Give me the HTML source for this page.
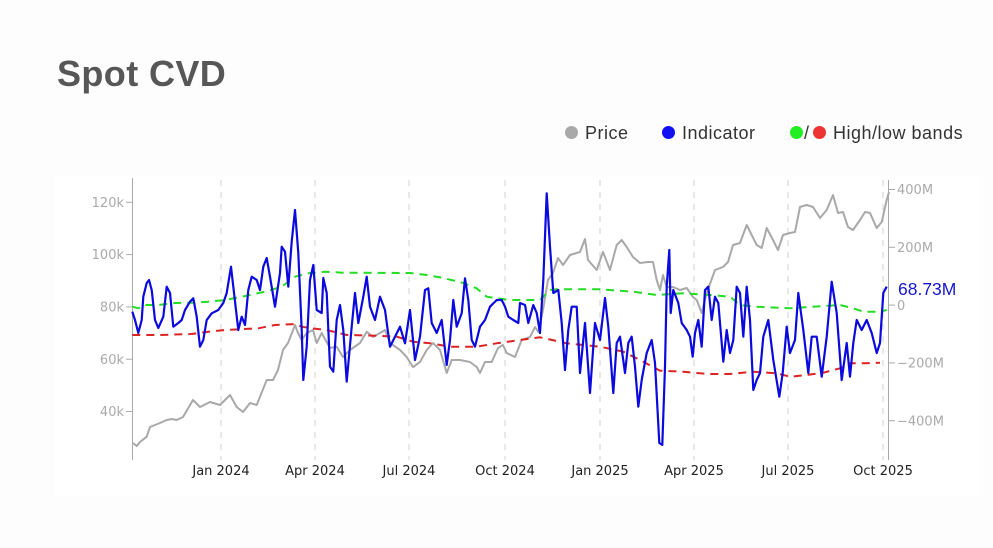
<!DOCTYPE html>
<html>
<head>
<meta charset="utf-8">
<style>
  html,body{margin:0;padding:0;background:#fdfdfd;}
  body{width:993px;height:548px;position:relative;overflow:hidden;font-family:"Liberation Sans",sans-serif;}
  .title{position:absolute;left:57px;top:53px;font-size:36px;font-weight:bold;color:#575757;letter-spacing:0.4px;}
  .leg{position:absolute;top:122px;font-size:18px;color:#333;line-height:22px;letter-spacing:0.5px;}
  .dot{position:absolute;top:126px;width:13px;height:13px;border-radius:50%;}
  svg{position:absolute;left:0;top:0;}
</style>
</head>
<body>
<div class="title">Spot CVD</div>

<div class="dot" style="left:565px;background:#a9a9a9;"></div>
<div class="leg" style="left:585px;">Price</div>
<div class="dot" style="left:662px;background:#1010f0;"></div>
<div class="leg" style="left:682px;">Indicator</div>
<div class="dot" style="left:790px;background:#22ee22;"></div>
<div class="leg" style="left:804px;">/</div>
<div class="dot" style="left:813px;background:#ee3333;"></div>
<div class="leg" style="left:833px;">High/low bands</div>

<svg width="993" height="548" viewBox="0 0 993 548" xmlns="http://www.w3.org/2000/svg">
  <rect x="55" y="176" width="925" height="320" fill="#ffffff"/>
  <!-- vertical dashed gridlines -->
  <g stroke="#d0d0d0" stroke-width="1" stroke-dasharray="6,6">
    <line x1="221" y1="180" x2="221" y2="460"/>
    <line x1="315" y1="180" x2="315" y2="460"/>
    <line x1="409" y1="180" x2="409" y2="460"/>
    <line x1="505" y1="180" x2="505" y2="460"/>
    <line x1="600" y1="180" x2="600" y2="460"/>
    <line x1="694" y1="180" x2="694" y2="460"/>
    <line x1="788" y1="180" x2="788" y2="460"/>
    <line x1="883" y1="180" x2="883" y2="460"/>
  </g>
  <!-- axes -->
  <g stroke="#aaaaaa" stroke-width="1">
    <line x1="132.5" y1="178" x2="132.5" y2="460"/>
    <line x1="888.5" y1="180" x2="888.5" y2="460"/>
    <line x1="126" y1="202.3" x2="132" y2="202.3"/>
    <line x1="126" y1="254.6" x2="132" y2="254.6"/>
    <line x1="126" y1="306.9" x2="132" y2="306.9"/>
    <line x1="126" y1="359.2" x2="132" y2="359.2"/>
    <line x1="126" y1="411.5" x2="132" y2="411.5"/>
    <line x1="889" y1="189.5" x2="895" y2="189.5"/>
    <line x1="889" y1="247.3" x2="895" y2="247.3"/>
    <line x1="889" y1="305.1" x2="895" y2="305.1"/>
    <line x1="889" y1="362.9" x2="895" y2="362.9"/>
    <line x1="889" y1="420.7" x2="895" y2="420.7"/>
  </g>
  <g font-family="DejaVu Sans, sans-serif" font-size="13" fill="#aaaaaa" text-anchor="end">
    <text x="124" y="207">120k</text>
    <text x="124" y="259">100k</text>
    <text x="124" y="311.5">80k</text>
    <text x="124" y="364">60k</text>
    <text x="124" y="416">40k</text>
  </g>
  <g font-family="DejaVu Sans, sans-serif" font-size="13" fill="#aaaaaa" text-anchor="start">
    <text x="897" y="194">400M</text>
    <text x="897" y="252">200M</text>
    <text x="897" y="310">0</text>
    <text x="897" y="367.5">−200M</text>
    <text x="897" y="425.5">−400M</text>
  </g>
  <g font-family="DejaVu Sans, sans-serif" font-size="13" fill="#222222" text-anchor="middle">
    <text x="221" y="475">Jan 2024</text>
    <text x="315" y="475">Apr 2024</text>
    <text x="409" y="475">Jul 2024</text>
    <text x="505" y="475">Oct 2024</text>
    <text x="600" y="475">Jan 2025</text>
    <text x="694" y="475">Apr 2025</text>
    <text x="788" y="475">Jul 2025</text>
    <text x="883" y="475">Oct 2025</text>
  </g>

  <!-- price -->
  <polyline fill="none" stroke="#a9a9a9" stroke-width="2" stroke-linejoin="round" points="132.7,443 136.7,446 140,442 146.7,436.7 150,427 155,425 160,423 166.7,420 171.7,419 176.7,420 183,417 193,400 200,407 210,402 220,405 230,395 236.7,407 243,412 250,403 256.7,405 266.7,380 273,380 278,370 283,350 288,343 295,325 298,333 301.7,340 306.7,333 313,330 316.7,343 321.7,333 330,348 336.7,346.7 343,357 350,350 360,343 366.7,331.7 373,337 380,333 385,330 390,343 400,350 406.7,357 413,367 420,362 426.7,350 433,343 440,350 446.7,373 451.7,360 460,360 470,362 476.7,367 480,373 485,362 491.7,362 498,348 503,345 506.7,353 515,357 521.7,340 530,337 535,327 538.3,332 543,310 548,280 553,273 558,258 563,265 570,255 580,252 585,239 588,260 596.7,270 603,252 610,270 616.7,245 621.7,240 626.7,247 633,257 640,263 648,262 653,262 656.7,280 660,290 663,275 666.7,287 673,287 680,290 686.7,288 693,297 696.7,300 701.7,313 706.7,293 715,270 723,267 728,262 733,245 740,243 746.7,225 751.7,235 756.7,245 761.7,248 766.7,228 773,240 778,250 783,235 790,233 795,232 800,207 806.7,205 813,207 820,218 826.7,210 833,195 838,213 843,212 848,227 853,230 860,220 865,212 870,213 876.7,228 881.7,222 886.7,200 889,192"/>

  <!-- high band -->
  <polyline fill="none" stroke="#22dd22" stroke-width="2" stroke-dasharray="8,6" stroke-linejoin="round" points="132.3,306.7 138.3,308.3 145,305 158.3,305 175,303 191.7,302.7 208.3,301.7 225,300 241.7,296.7 265,291.7 281.7,286.7 295,276.7 308.3,273.3 325,271.7 343,272.7 410,273 426.7,275 443.3,278 463.3,283 476.7,288.3 486.7,296.7 496.7,298.3 510,300 540,300 550,290 556.7,289.3 600,289.3 633.3,291.7 656.7,295 683.3,293.3 710,295 730,296.7 740,305 756.7,306.7 790,308.3 823.3,306 840,305 853.3,308.3 863.3,311.7 880,311.7 886.7,310"/>
  <!-- low band -->
  <polyline fill="none" stroke="#dd2222" stroke-width="2" stroke-dasharray="8,6" stroke-linejoin="round" points="132.3,335 158.3,335 191.7,334 208.3,331.7 225,330 258.3,328.3 275,325 295,324 301.7,326.7 311.7,328.3 326.7,330 346.7,335 376.7,335.7 396.7,336.7 413.3,341.7 430,343.3 450,346.7 476.7,346.7 496.7,343.3 520,340 540,337.3 566.7,343.3 600,346.7 623.3,351.7 643.3,361.7 660,370.7 683.3,371.7 700,373.3 710,374 730,374 753.3,371.7 776.7,373.3 790,376.7 806.7,375 823.3,372.7 840,368.3 850,363.3 863.3,363.3 880,362.7"/>

  <!-- indicator -->
  <polyline fill="none" stroke="#0a0ae0" stroke-width="2.2" stroke-linejoin="round" points="132.3,311.7 135,320 138.3,333 141.7,320 143.3,296.7 146.7,283 149,280 151.7,290 155,320 158.3,328 163.3,316.7 166.7,286.7 170,293 173.3,326.7 178.3,323 181.7,320 185,310 190,301.7 193.3,298.3 196.7,316.7 200,346.7 203.3,340 206.7,320 211.7,313.3 218.3,310 223.3,303 226.7,293 231,266.7 233.3,286.7 238.3,330 241.7,316.7 245,325 248.3,290 251.7,276.7 256.7,280 260,290 263.3,266.7 266.7,258 270,276.7 275,306.7 280,273 281.7,246.7 285,251.7 288.3,286.7 291.7,241.7 295,210 298.3,253 301.7,330 303.3,380 306.7,346.7 310,280 313.3,265 316.7,310 321.7,313 323.3,278 326.7,293 330,366.7 333.3,371.7 336.7,320 340,305 343.3,330 346.7,381.7 351.7,326.7 355,293 358.3,323 363.3,296.7 366.7,276.7 370,306.7 375,320 380,296.7 385,310 390,346.7 395,336.7 400,326.7 405,343.3 410,310 415,360 420,336.7 425,290 428.3,288.3 431.7,323 436.7,333 441.7,320 446.7,365 450,340 453.3,300 456.7,326.7 461.7,313.3 465,278.3 468.3,300 471.7,340 475,346.7 480,326.7 485,320 490,306.7 496.7,300 501.7,300 505,306.7 508.3,316.7 513.3,320 518.3,323 520,303 525,305 528.3,323 533.3,305 536.7,313 540,333 543.3,280 546.7,193.3 550,246.7 553.3,293 558.3,290 561.7,323 565,370 568.3,330 571.7,306.7 576.7,306.7 580,373 585,323 590,393 595,323 600,340 605,298 608.3,326.7 613.3,393 616.7,343 620,336.7 625,373 628.3,343 631.7,336.7 635,366.7 638.3,406.7 641.7,380 646.7,353 651.7,340 655,363 659.3,443 662.3,445 665,366.7 666.7,286.7 669.3,250 670.7,313 673.3,290 678.3,303 681.7,323 686.7,330 690,336.7 692.7,356.7 695,333 698.3,320 701.7,346.7 705,290 708.3,286.7 711.7,320 715,296.7 718.3,303 723.3,361.7 726.7,330 730,353 733.3,340 736.7,286.7 740,293 743.3,336.7 746.7,286.7 750,320 753.3,390 756.7,380 760,373 763.3,336.7 768.3,320 773.3,360 779.3,396.7 782.7,373 786.7,326.7 790,353 795,340 798.3,293 803.3,330 808.3,373 811.7,336.7 816.7,336.7 821.7,376.7 826.7,336.7 831.7,281.7 836.7,313 841.7,380 846.7,343 850,376.7 853.3,343 856.7,320 861.7,330 866.7,320 871.7,333 876.7,353 880,343 883.3,293 886.7,286.7"/>

  <text x="898" y="295" font-family="Liberation Sans, sans-serif" font-size="17.5" fill="#1515d0">68.73M</text>
</svg>
</body>
</html>
